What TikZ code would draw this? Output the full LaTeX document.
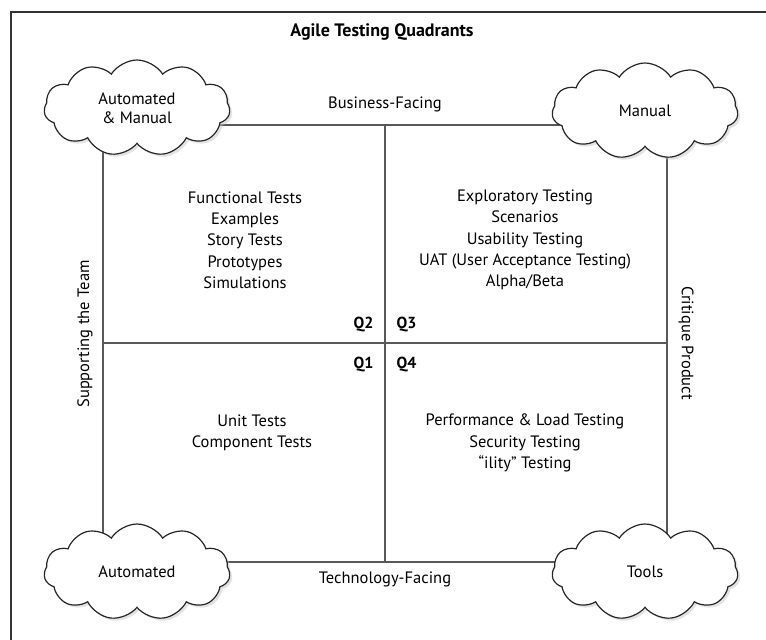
\documentclass[tikz,border=0pt]{standalone}
\usepackage{fontspec}
\setmainfont{PT Sans}
\usetikzlibrary{shapes.symbols,shadows}

\begin{document}
\begin{tikzpicture}[x=1pt,y=-1pt,
    puff/.style={cloud, cloud puffs=11, cloud puff arc=115, aspect=2.1,
      draw=black!85, line width=1.2pt, fill=white,
      minimum width=186pt, minimum height=96pt, align=center,
      font=\fontsize{16.5}{19}\selectfont,
      drop shadow={shadow xshift=2.5pt, shadow yshift=-2.5pt, fill=black!22}},
    edge/.style={line width=1.6pt, color=black!65},
    item/.style={align=center, font=\fontsize{16.5}{21.3}\selectfont},
    qlabel/.style={font=\bfseries\fontsize{16}{18}\selectfont},
    axis/.style={font=\fontsize{16.5}{18}\selectfont}]
  %%%%% START %%%%%
  \useasboundingbox (0,0) rectangle (766,640);

  % frame
  \draw[line width=2.5pt, black!80] (11,640) -- (11,12) -- (766,12);

  \node[font=\bfseries\fontsize{18}{20}\selectfont] (title) at (382,32) {Agile Testing Quadrants};

  % quadrant grid
  \coordinate (tl) at (103,125);
  \coordinate (tr) at (667,125);
  \coordinate (bl) at (103,562);
  \coordinate (br) at (667,562);
  \coordinate (tm) at (385,125);
  \coordinate (bm) at (385,562);
  \coordinate (ml) at (103,343);
  \coordinate (mr) at (667,343);

  \draw[edge] (tl) -- (tr) -- (br) -- (bl) -- cycle;
  \draw[edge] (tm) -- (bm);
  \draw[edge] (ml) -- (mr);

  % corner clouds
  \node[puff] (am) at (137,108) {Automated\\\& Manual};
  \node[puff] (man) at (645,111) {Manual};
  \node[puff] (aut) at (137,572) {Automated};
  \node[puff] (tools) at (645,572) {Tools};

  % axis labels
  \node[axis] (bus) at (385,104) {Business-Facing};
  \node[axis] (tech) at (385,579) {Technology-Facing};
  \node[axis, rotate=90] (team) at (85,334) {Supporting the Team};
  \node[axis, rotate=-90] (crit) at (686,343) {Critique Product};

  % quadrant contents
  \node[item] (q2text) at (245,240) {Functional Tests\\Examples\\Story Tests\\Prototypes\\Simulations};
  \node[item] (q3text) at (525,240) {Exploratory Testing\\Scenarios\\Usability Testing\\UAT (User Acceptance Testing)\\Alpha/Beta};
  \node[item] (q1text) at (252,433) {Unit Tests\\Component Tests};
  \node[item] (q4text) at (525,443) {Performance \& Load Testing\\Security Testing\\``ility'' Testing};

  \node[qlabel, anchor=east] (q2) at (377,325) {Q2};
  \node[qlabel, anchor=west] (q3) at (393,325) {Q3};
  \node[qlabel, anchor=east] (q1) at (377,365) {Q1};
  \node[qlabel, anchor=west] (q4) at (393,365) {Q4};
  %%%%% END %%%%%
\end{tikzpicture}
\end{document}
